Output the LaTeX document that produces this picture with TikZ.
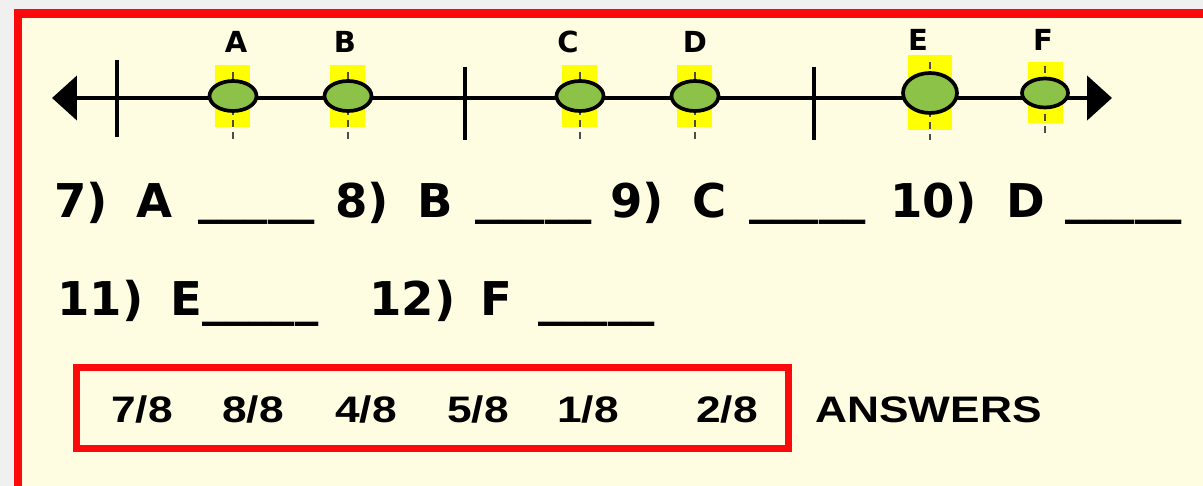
\documentclass[tikz,border=0pt]{standalone}
\usepackage{fontspec}
\newfontfamily\handfont{DejaVu Sans}
\newfontfamily\answerfont{Liberation Sans}
\usetikzlibrary{shapes.geometric, arrows.meta}

\definecolor{paper}{RGB}{255,253,225}
\definecolor{framered}{RGB}{250,10,10}
\definecolor{hiyellow}{RGB}{255,255,0}
\definecolor{dotgreen}{RGB}{140,194,72}

\begin{document}
\begin{tikzpicture}[
    x=0.02cm, y=-0.02cm,
    sheet/.style={draw=framered, line width=5.1pt, fill=paper},
    numline/.style={line width=2.7pt, {Triangle[length=0.5cm,width=0.88cm]}-{Triangle[length=0.5cm,width=0.88cm]}},
    bigtick/.style={line width=2.1pt},
    smalltick/.style={line width=1.6pt, black!70, dash pattern=on 4pt off 2.8pt},
    hilite/.style={fill=hiyellow},
    dot/.style={ellipse, draw=black, line width=2.1pt, fill=dotgreen, inner sep=0pt, minimum width=0.94cm, minimum height=0.6cm},
    bigdot/.style={dot, minimum width=1.08cm, minimum height=0.8cm},
    ptlabel/.style={font=\handfont\bfseries\fontsize{16.5}{19}\selectfont, inner sep=0pt},
    qtext/.style={font=\handfont\bfseries\fontsize{26.5}{30}\selectfont, anchor=base west, inner sep=0pt},
    ansbox/.style={draw=framered, line width=4pt},
    ans/.style={font=\answerfont\bfseries\fontsize{21}{24}\selectfont, inner sep=0pt}
]
\useasboundingbox (0,0) rectangle (1203,486);
\fill[gray!12] (0,0) rectangle (1203,486);

% Worksheet frame
\draw[sheet] (18,13.5) rectangle (1240,500);

% Highlights behind the points
\fill[hilite] (215,65) rectangle (250,127);
\fill[hilite] (330,65) rectangle (365,127);
\fill[hilite] (562,65) rectangle (597,127);
\fill[hilite] (677,65) rectangle (712,127);
\fill[hilite] (908,55) rectangle (952,130);
\fill[hilite] (1028,62) rectangle (1063,123);

% Small ticks
\draw[smalltick] (233,72) -- (233,140);
\draw[smalltick] (348,72) -- (348,140);
\draw[smalltick] (580,72) -- (580,140);
\draw[smalltick] (695,72) -- (695,140);
\draw[smalltick] (930,62) -- (930,140);
\draw[smalltick] (1045,66) -- (1045,136);

% Number line
\coordinate (leftend) at (52,98);
\coordinate (rightend) at (1112,98);
\draw[numline] (leftend) -- (rightend);

% Whole-number ticks
\draw[bigtick] (117,60) -- (117,137);
\draw[bigtick] (465,67) -- (465,140);
\draw[bigtick] (814,67) -- (814,140);

% Points
\node[dot] (dotA) at (233,96) {};
\node[dot] (dotB) at (348,96) {};
\node[dot] (dotC) at (580,96) {};
\node[dot] (dotD) at (695,96) {};
\node[bigdot] (dotE) at (930,93) {};
\node[dot, minimum width=0.92cm, minimum height=0.58cm] (dotF) at (1045,93) {};

% Point labels
\node[ptlabel] (lblA) at (236,42) {A};
\node[ptlabel] (lblB) at (345,42) {B};
\node[ptlabel] (lblC) at (568,42) {C};
\node[ptlabel] (lblD) at (695,42) {D};
\node[ptlabel] (lblE) at (918,40) {E};
\node[ptlabel] (lblF) at (1043,40) {F};

% Questions, first row
\node[qtext] (q7) at (54,217) {7)};
\node[qtext] (q7pt) at (136,217) {A};
\node[qtext] (q7blank) at (198,214) {\_\_\_\_\_};
\node[qtext] (q8) at (335,217) {8)};
\node[qtext] (q8pt) at (417,217) {B};
\node[qtext] (q8blank) at (475,214) {\_\_\_\_\_};
\node[qtext] (q9) at (610,217) {9)};
\node[qtext] (q9pt) at (692,217) {C};
\node[qtext] (q9blank) at (749,214) {\_\_\_\_\_};
\node[qtext] (q10) at (890,217) {10)};
\node[qtext] (q10pt) at (1006,217) {D};
\node[qtext] (q10blank) at (1065,214) {\_\_\_\_\_};

% Questions, second row
\node[qtext] (q11) at (57,315) {11)};
\node[qtext] (q11pt) at (170,315) {E\_\_\_\_\_};
\node[qtext] (q12) at (369,315) {12)};
\node[qtext] (q12pt) at (480,315) {F};
\node[qtext] (q12blank) at (538,315) {\_\_\_\_\_};

% Answer bank
\draw[ansbox] (76.5,367.5) rectangle (788.5,448.5);
\node[ans] (ans1) at (142,409.5) {\scalebox{1.2}[1]{7/8}};
\node[ans] (ans2) at (253,409.5) {\scalebox{1.2}[1]{8/8}};
\node[ans] (ans3) at (366,409.5) {\scalebox{1.2}[1]{4/8}};
\node[ans] (ans4) at (478,409.5) {\scalebox{1.2}[1]{5/8}};
\node[ans] (ans5) at (588,409.5) {\scalebox{1.2}[1]{1/8}};
\node[ans] (ans6) at (727,409.5) {\scalebox{1.2}[1]{2/8}};
\node[ans, anchor=west] (anslabel) at (815,409.5) {\scalebox{1.2}[1]{ANSWERS}};

\end{tikzpicture}
\end{document}
